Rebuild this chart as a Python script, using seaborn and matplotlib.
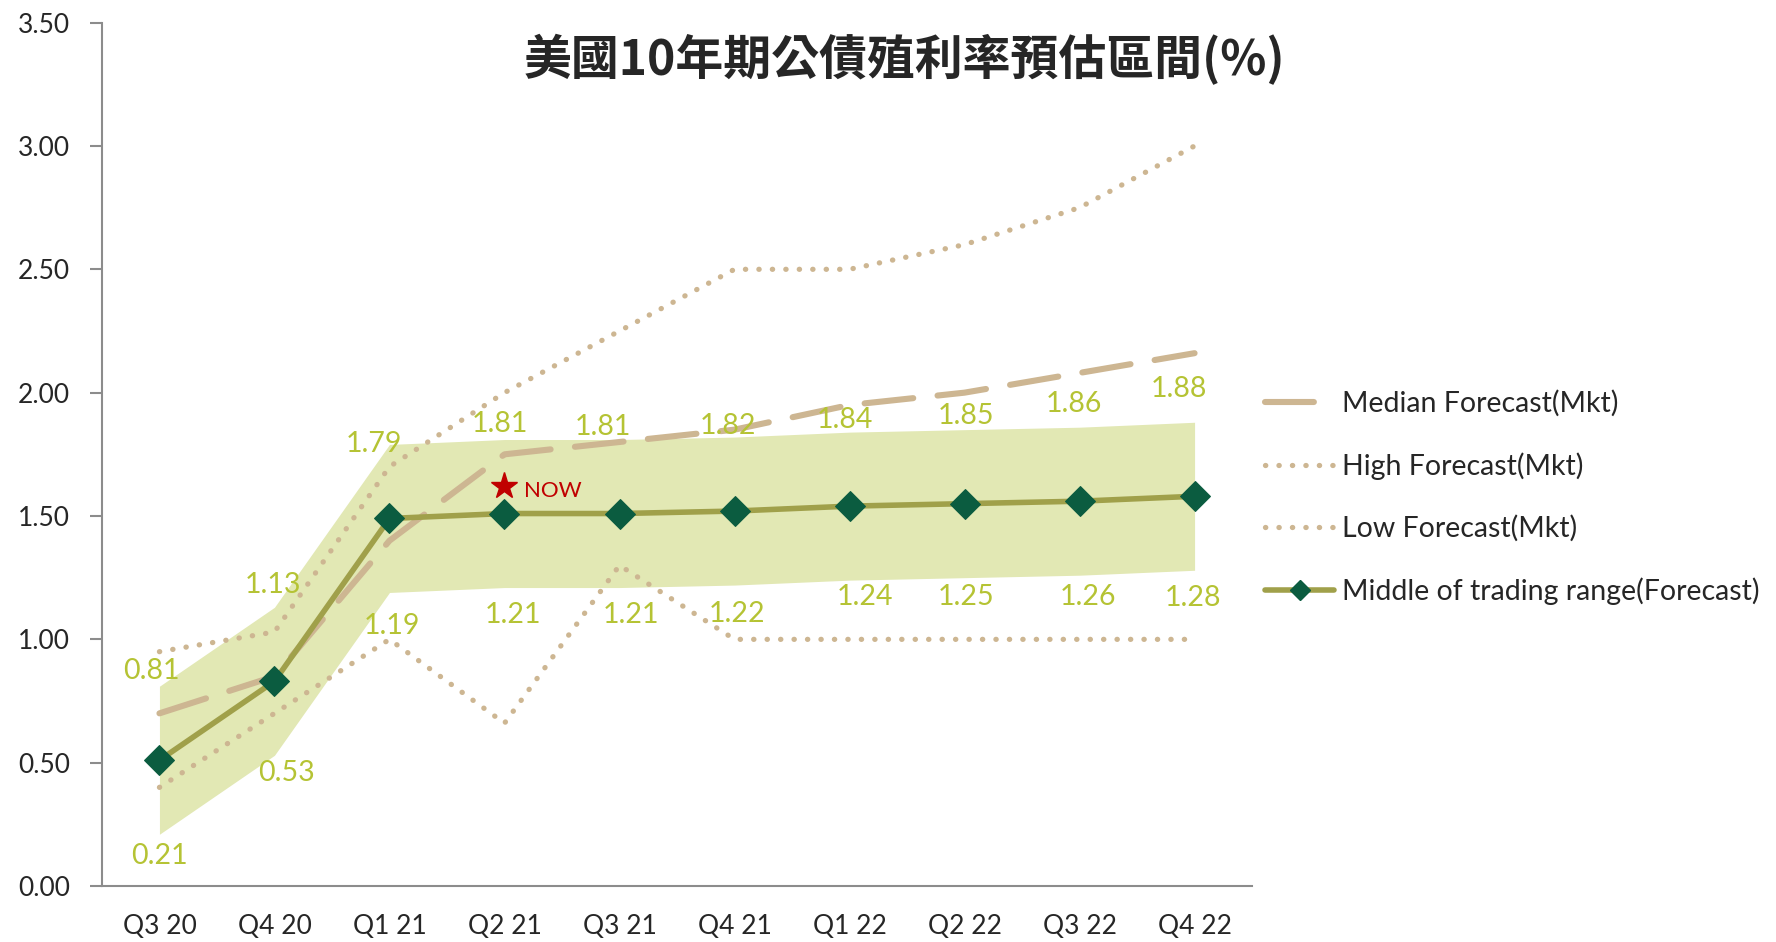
import matplotlib
matplotlib.use("Agg")
import matplotlib.pyplot as plt
from matplotlib.lines import Line2D
import seaborn as sns
import numpy as np
import pandas as pd

# ---- data ----
quarters = ["Q3 20", "Q4 20", "Q1 21", "Q2 21", "Q3 21", "Q4 21", "Q1 22", "Q2 22", "Q3 22", "Q4 22"]
range_upper = [0.81, 1.13, 1.79, 1.81, 1.81, 1.82, 1.84, 1.85, 1.86, 1.88]
range_lower = [0.21, 0.53, 1.19, 1.21, 1.21, 1.22, 1.24, 1.25, 1.26, 1.28]
range_middle = [0.51, 0.83, 1.49, 1.51, 1.51, 1.52, 1.54, 1.55, 1.56, 1.58]
median_fc = [0.70, 0.85, 1.40, 1.75, 1.80, 1.85, 1.95, 2.00, 2.08, 2.16]
high_fc = [0.95, 1.03, 1.70, 2.00, 2.25, 2.50, 2.50, 2.60, 2.75, 3.00]
low_fc = [0.40, 0.70, 1.00, 0.66, 1.30, 1.00, 1.00, 1.00, 1.00, 1.00]
now_quarter = "Q2 21"
now_value = 1.62
title = "美國10年期公債殖利率預估區間(%)"
legend_labels = ["Median Forecast(Mkt)", "High Forecast(Mkt)", "Low Forecast(Mkt)",
                 "Middle of trading range(Forecast)"]
y_ticks = [0.0, 0.5, 1.0, 1.5, 2.0, 2.5, 3.0, 3.5]

# label offsets (points) for the manually placed data labels
upper_off = [(-6, 11), (-1, 16), (-11, 0), (-3, 11), (-12, 9), (-5, 8), (-3, 9), (1, 10), (-4, 17), (-11, 24)]
lower_off = [(0, -16), (9, -13), (2, -24), (6, -20), (8, -20), (2, -21), (11, -12), (1, -14), (6, -16), (-1, -20)]

sns.set_theme(style="white")
plt.rcParams["font.family"] = ["Lato", "Noto Sans CJK TC", "DejaVu Sans"]

TAN = "#CDB692"
BAND = "#E2E8B4"
OLIVE = "#A0A04A"
DKGREEN = "#0B5C40"
LABEL = "#B5C334"
DOTS = (0.05, 2.5)
DASH = (8, 4)

fig = plt.figure(figsize=(17.76, 9.42), dpi=100)
ax = fig.add_axes([0.0574, 0.0594, 0.6476, 0.9166])

x = np.arange(len(quarters))
df = pd.DataFrame({"x": x, "upper": range_upper, "lower": range_lower, "mid": range_middle,
                   "median": median_fc, "high": high_fc, "low": low_fc})

ax.fill_between(df["x"], df["lower"], df["upper"], color=BAND, lw=0, zorder=1)

sns.lineplot(data=df, x="x", y="high", ax=ax, color=TAN, lw=3.8, zorder=2)
l_high = ax.lines[-1]
l_high.set_dashes(DOTS); l_high.set_dash_capstyle("round")
sns.lineplot(data=df, x="x", y="low", ax=ax, color=TAN, lw=3.8, zorder=2)
l_low = ax.lines[-1]
l_low.set_dashes(DOTS); l_low.set_dash_capstyle("round")
sns.lineplot(data=df, x="x", y="median", ax=ax, color=TAN, lw=4.4, zorder=3)
l_med = ax.lines[-1]
l_med.set_dashes(DASH); l_med.set_dash_capstyle("round")
sns.lineplot(data=df, x="x", y="mid", ax=ax, color=OLIVE, lw=4, zorder=4,
             marker="D", markersize=15, markerfacecolor=DKGREEN, markeredgecolor=DKGREEN)

for i in range(len(quarters)):
    ax.annotate(f"{range_upper[i]:.2f}", (x[i], range_upper[i]), xytext=upper_off[i],
                textcoords="offset points", ha="center", va="center", color=LABEL, fontsize=20.5, zorder=6)
    ax.annotate(f"{range_lower[i]:.2f}", (x[i], range_lower[i]), xytext=lower_off[i],
                textcoords="offset points", ha="center", va="center", color=LABEL, fontsize=20.5, zorder=6)

nx = quarters.index(now_quarter)
ax.plot([nx], [now_value], marker="*", markersize=20, color="#C00000", lw=0, zorder=7)
ax.annotate("NOW", (nx, now_value), xytext=(14, -3), textcoords="offset points",
            ha="left", va="center", color="#C00000", fontsize=16)

ax.set_xlim(-0.5, len(quarters) - 0.5)
ax.set_ylim(0, 3.5)
ax.set_xticks(x)
ax.set_xticklabels(quarters, fontsize=19)
ax.set_xticks(np.arange(-0.5, len(quarters), 1.0), minor=True)
ax.tick_params(axis="x", which="major", length=0, pad=20)
ax.tick_params(axis="x", which="minor", length=9, width=1.5, color="#8C8C8C", direction="out")
ax.set_yticks(y_ticks)
ax.set_yticklabels([f"{v:.2f}" for v in y_ticks], fontsize=19)
ax.tick_params(axis="y", length=9, width=1.5, color="#8C8C8C", direction="out", pad=14, left=True)
ax.set_xlabel(""); ax.set_ylabel("")
sns.despine(ax=ax)
for s in ["left", "bottom"]:
    ax.spines[s].set_color("#8C8C8C")
    ax.spines[s].set_linewidth(1.5)

fig.text(0.509, 0.937, title, ha="center", va="center", fontsize=34.5, fontweight="bold",
         family=["Noto Sans CJK TC", "DejaVu Sans"])

h_med = Line2D([], [], color=TAN, lw=4.4, dashes=DASH, dash_capstyle="round")
h_high = Line2D([], [], color=TAN, lw=3.8, dashes=DOTS, dash_capstyle="round")
h_low = Line2D([], [], color=TAN, lw=3.8, dashes=DOTS, dash_capstyle="round")
h_mid = Line2D([], [], color=OLIVE, lw=4, marker="D", markersize=10,
               markerfacecolor=DKGREEN, markeredgecolor=DKGREEN)
fig.legend([h_med, h_high, h_low, h_mid], legend_labels, loc="center left",
           bbox_to_anchor=(0.7125, 0.472), frameon=False, fontsize=20.5,
           handlelength=2.4, handletextpad=0.28, labelspacing=1.24, borderpad=0, borderaxespad=0)

fig.savefig("out.png", dpi=100, facecolor="white")
